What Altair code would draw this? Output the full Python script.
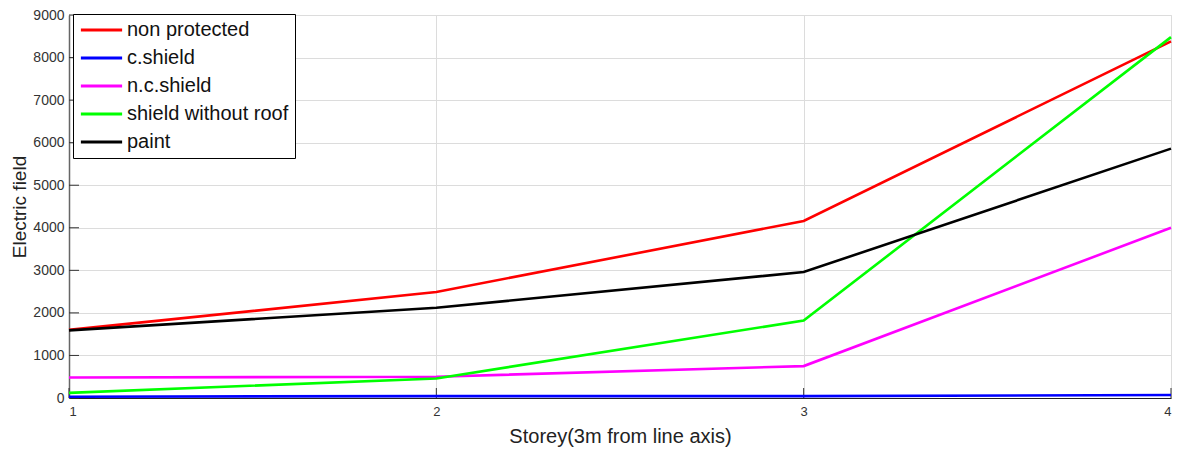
import altair as alt
import pandas as pd

storey = [1, 2, 3, 4]
series_names = ["non protected", "c.shield", "n.c.shield", "shield without roof", "paint"]
series_colors = ["#ff0000", "#0000ff", "#ff00ff", "#00ff00", "#000000"]
non_protected = [1600, 2490, 4160, 8380]
c_shield = [30, 45, 45, 70]
nc_shield = [480, 500, 750, 4000]
shield_without_roof = [120, 460, 1820, 8480]
paint = [1590, 2120, 2960, 5860]
y_ticks = [0, 1000, 2000, 3000, 4000, 5000, 6000, 7000, 8000, 9000]
x_ticks = [1, 2, 3, 4]

series_values = [non_protected, c_shield, nc_shield, shield_without_roof, paint]
rows = []
for name, vals in zip(series_names, series_values):
    for s, v in zip(storey, vals):
        rows.append({"storey": s, "field": v, "series": name})
df = pd.DataFrame(rows)

FONT = "Liberation Sans"
W, H = 1102, 383

x_scale = alt.Scale(domain=[1, 4], nice=False, zero=False)
y_scale = alt.Scale(domain=[0, 9000], nice=False)

lines = alt.Chart(df).mark_line(strokeWidth=2.6).encode(
    x=alt.X("storey:Q", scale=x_scale,
            axis=alt.Axis(values=x_ticks, format="d", title="Storey(3m from line axis)",
                          ticks=False, labelPadding=7, labelFontSize=13, labelColor="#333",
                          domainColor="#222", domainWidth=1.2,
                          gridColor="#dcdcdc", titleFontSize=20, titlePadding=8,
                          titleColor="#222", titleFontWeight="normal")),
    y=alt.Y("field:Q", scale=y_scale,
            axis=alt.Axis(values=y_ticks, format="d", title="Electric field", ticks=False,
                          labelPadding=5, labelFontSize=14, labelColor="#333",
                          domainColor="#666", domainWidth=1.5, gridColor="#dcdcdc",
                          titleFontSize=19, titlePadding=3, titleColor="#222",
                          titleFontWeight="normal")),
    color=alt.Color("series:N", scale=alt.Scale(domain=series_names, range=series_colors),
                    sort=series_names,
                    legend=alt.Legend(title=None, orient="none", legendX=4, legendY=-1,
                                      symbolType="stroke", symbolSize=1700,
                                      symbolStrokeWidth=3, labelFontSize=20,
                                      labelFont=FONT, labelColor="#111", labelOffset=3,
                                      labelLimit=400,
                                      clipHeight=20, rowPadding=8, padding=6,
                                      strokeColor="#000", fillColor="#ffffff")),
    order=alt.Order("storey:Q"),
    detail="series:N",
)

ytick_df = pd.DataFrame({"v": y_ticks})
yt = alt.Chart(ytick_df).mark_rule(color="#333", strokeWidth=1).encode(
    y=alt.Y("v:Q", scale=y_scale), x=alt.value(0), x2=alt.value(10))
xtick_df = pd.DataFrame({"v": x_ticks})
xt = alt.Chart(xtick_df).mark_rule(color="#333", strokeWidth=1).encode(
    x=alt.X("v:Q", scale=x_scale), y=alt.value(H), y2=alt.value(H - 10))

chart = alt.layer(yt, xt, lines).properties(
    width=W, height=H,
    autosize=alt.AutoSizeParams(type="none"),
    padding={"left": 61, "top": 7, "right": 12, "bottom": 56},
).configure_view(stroke="#d9d9d9", strokeWidth=1).configure_axis(
    labelFont=FONT, titleFont=FONT
).configure(background="white")

chart.save("out.html", embed_options={"renderer": "svg", "actions": False})
